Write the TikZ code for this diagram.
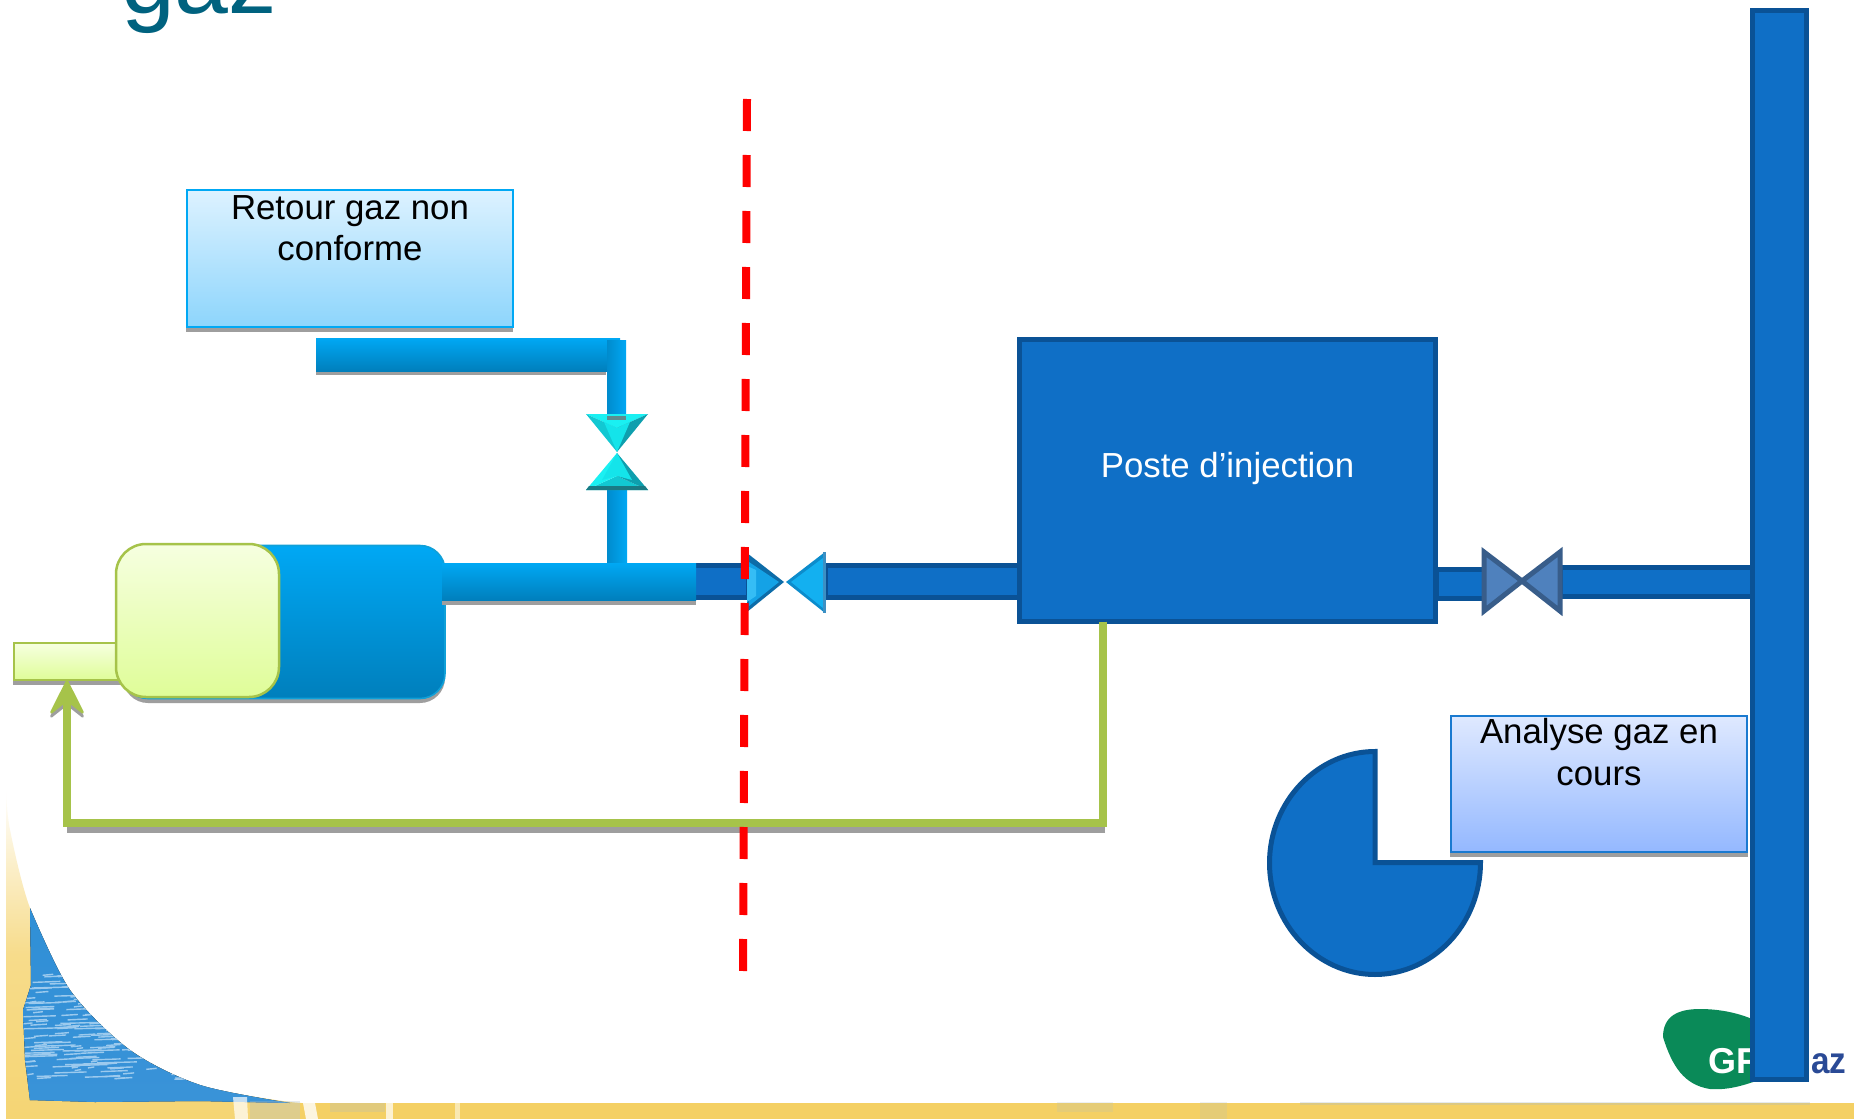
\documentclass[tikz,border=0pt]{standalone}
\usepackage{fontspec}
\setmainfont{Liberation Sans}
\usetikzlibrary{arrows.meta}
\definecolor{pipeDark}{HTML}{0A5296}
\definecolor{pipeFill}{HTML}{0F6FC6}
\definecolor{lightA}{HTML}{00A8F4}
\definecolor{lightB}{HTML}{007FBC}
\definecolor{greenLine}{HTML}{A6C34A}
\definecolor{shadowGrey}{HTML}{9E9E9E}
\definecolor{titleTeal}{HTML}{00627F}
\definecolor{bandYellow}{HTML}{F4D064}
\definecolor{logoGreen}{HTML}{0A8A58}
\definecolor{logoNavy}{HTML}{2A4A96}
\definecolor{valveFace}{HTML}{4F81BD}
\definecolor{valveEdge}{HTML}{385D8A}
\definecolor{limeTop}{HTML}{F6FFE0}
\definecolor{limeBot}{HTML}{DFFD98}
\definecolor{HBlue}{HTML}{2F8FD6}
\definecolor{HBlueB}{HTML}{3A93D8}
\definecolor{HStreak}{HTML}{9CCAEE}
\definecolor{HGrey}{HTML}{A9BCC6}
\definecolor{CalA}{HTML}{DDF2FF}
\definecolor{CalB}{HTML}{8DD5FC}
\definecolor{CalC}{HTML}{DFE9FF}
\definecolor{CalD}{HTML}{94B8FF}
\definecolor{CalEdge}{HTML}{1A7AD0}
\definecolor{MachEdge}{HTML}{10A0D8}
\definecolor{ValveC}{HTML}{1AF0F2}
\definecolor{ValveD}{HTML}{12C8D2}
\definecolor{ValveE}{HTML}{0E9FAE}
\definecolor{ValveF}{HTML}{14E4EA}
\definecolor{ValveG}{HTML}{1A7A84}
\definecolor{ValveS}{HTML}{5F8C90}
\definecolor{ValveI}{HTML}{0D6CA8}
\definecolor{ValveK}{HTML}{14A2E6}
\definecolor{ValveP}{HTML}{35BDF5}
\definecolor{ValveM}{HTML}{0C8CCC}
\definecolor{ValveL}{HTML}{13B0F0}
\definecolor{ValveO}{HTML}{3C90C4}
\tikzset{
  plainnode/.style={inner sep=0pt,outer sep=0pt},
  darkpipe/.style={plainnode,draw=pipeDark,fill=pipeFill,line width=2.5pt},
  lightpipe/.style={plainnode,top color=lightA,bottom color=lightB},
  lightriser/.style={plainnode,left color=lightB!70!lightA,right color=lightA},
  greybar/.style={plainnode,fill=shadowGrey},
  callout/.style={plainnode,draw,line width=1pt},
  limefill/.style={plainnode,draw=greenLine,line width=1.25pt,top color=limeTop,bottom color=limeBot},
  flowline/.style={draw=greenLine,line width=4pt,line cap=butt,line join=miter},
  flowshadow/.style={draw=shadowGrey,line width=4pt,line cap=butt,line join=miter},
  tipstyle/.style={-{Stealth[length=19pt,width=19pt,inset=7.5pt,round,line width=1.2pt]}},
  limitline/.style={draw=red,line width=4pt,dash pattern=on 16pt off 12pt},
  handvalve/.style={draw=valveEdge,fill=valveFace,line width=2.5pt,line join=miter},
}
% rectangle node from px corners: style, name, x1,y1,x2,y2, content
\newcommand{\pxrect}[7]{\node[#1,minimum width={((#5)-(#3))*0.5pt},minimum height={((#6)-(#4))*0.5pt}] (#2) at ({((#3)+(#5))/2},{((#4)+(#6))/2}) {#7};}
% bevelled triangle: A B apex I, colours of faces AB, A-apex, B-apex
\newcommand{\bevel}[7]{%
  \fill[#5] #1 -- #2 -- #4 -- cycle;
  \fill[#6] #1 -- #3 -- #4 -- cycle;
  \fill[#7] #2 -- #3 -- #4 -- cycle;}
\begin{document}
\begin{tikzpicture}[x=0.5pt,y=-0.5pt]
\useasboundingbox (0,0) rectangle (1854,1119);
\fill[white] (0,0) rectangle (1854,1119);
% ---------- slide background
\path[top color=white,bottom color=bandYellow!90!white,middle color=bandYellow!75!white]
  plot[smooth] coordinates {(6,790) (10,830) (30,908) (70,990) (130,1050) (200,1085) (290,1102) (340,1103)}
  -- (340,1119) -- (6,1119) -- cycle;
\fill[bandYellow] (300,1103) rectangle (1854,1119);
\begin{scope}
  \clip plot[smooth] coordinates {(30,908) (70,990) (130,1050) (200,1085) (290,1103)} -- (200,1101) -- (95,1102) -- (30,1100) -- (25,1060) -- (23,1010) -- (31,985) -- cycle;
  \fill[top color=HBlue,bottom color=HBlueB] (20,900) rectangle (300,1110);
  \pgfmathsetseed{11}
  \foreach \i in {1,...,320} {
    \pgfmathsetmacro\sx{20+rnd*230}
    \pgfmathsetmacro\sy{975+rnd*105}
    \pgfmathsetmacro\sl{6+rnd*34}
    \draw[HStreak,line width=.7pt] (\sx,\sy) -- ++(\sl,-1);
  }
  \fill[HBlueB,opacity=.75] (20,1082) rectangle (300,1110);
\end{scope}
\fill[white,opacity=.7] (233,1097) -- (247,1097) -- (248,1119) -- (235,1119) -- cycle;
\fill[white,opacity=.8] (303,1103) -- (315,1103) -- (318,1119) -- (306,1119) -- cycle;
\fill[white!70!bandYellow] (386,1103) rectangle (393,1119);
\fill[white!50!bandYellow] (455,1103) rectangle (460,1119);
\fill[HGrey,opacity=.3] (250,1101) rectangle (300,1119);
\fill[HGrey,opacity=.25] (330,1103) rectangle (385,1112);
\fill[HGrey,opacity=.2] (1057,1102) rectangle (1113,1112);
\fill[HGrey,opacity=.2] (1200,1102) rectangle (1227,1119);
\fill[HGrey,opacity=.3] (1300,1102) rectangle (1810,1105);
% ---------- logo behind the main
\fill[logoGreen] (1663,1037) .. controls (1663,1016) and (1678,1009) .. (1700,1009)
  .. controls (1730,1009) and (1758,1018) .. (1780,1035)
  .. controls (1785,1060) and (1770,1078) .. (1750,1083)
  .. controls (1735,1088) and (1722,1090) .. (1710,1089)
  .. controls (1684,1085) and (1672,1066) .. (1663,1037) -- cycle;
\node[plainnode,anchor=base west,text=white,font=\fontsize{18}{20}\selectfont\bfseries] (logoA) at (1708,1073) {GF};
\node[plainnode,anchor=base west,text=logoNavy,font=\fontsize{18.5}{20}\selectfont\bfseries,xscale=.9] (logoB) at (1811,1073) {az};
% ---------- title
\node[plainnode,anchor=base west,text=titleTeal,font=\fontsize{48.4}{50}\selectfont] (title) at (121,13) {gaz};
% ---------- callout 1
\pxrect{greybar}{shA}{186}{327}{513}{332}{}
\pxrect{callout,draw=lightA,top color=CalA,bottom color=CalB}{retour}{187}{190}{513}{327}{\parbox[c][68.5pt][t]{163pt}{\centering\fontsize{17.4}{20.6}\selectfont\rule{0pt}{14.5pt}Retour gaz non\\conforme}}
% ---------- return pipe
\pxrect{greybar}{shB}{316}{371}{606}{375}{}
\pxrect{lightpipe}{pipeTop}{316}{338}{620}{371}{}
\pxrect{lightriser}{riserTop}{607}{340}{626}{416}{}
\pxrect{lightriser}{riserLow}{607}{488}{627}{565}{}
% ---------- cyan valve
\bevel{(586,414)}{(648,414)}{(617,452)}{(617,428)}{ValveC}{ValveD}{ValveE}
\fill[ValveF] (617,428) -- (604,422) -- (617,452) -- (630,422) -- cycle;
\pxrect{plainnode,fill=ValveS}{shC}{607}{416}{626}{420}{}
\bevel{(586,490)}{(648,490)}{(617,453)}{(617,476)}{ValveD}{ValveC}{ValveE}
\fill[ValveF] (617,476) -- (602,480) -- (617,453) -- (632,480) -- cycle;
\fill[ValveG] (586,490) -- (589,486) -- (645,486) -- (648,490) -- cycle;
% ---------- machine
\node[plainnode,fill=shadowGrey,rounded corners=12.5pt,minimum width=161pt,minimum height=76.5pt] (mShadow) at (284,626.5) {};
\node[plainnode,draw=MachEdge,line width=.8pt,top color=lightA,bottom color=lightB,rounded corners=12.5pt,minimum width=161pt,minimum height=76.5pt] (machine) at (284,622) {};
\pxrect{greybar}{shD}{13}{680}{125}{685}{}
\pxrect{limefill}{feed}{14}{643}{135}{680}{}
\node[plainnode,draw=greenLine,line width=1.25pt,top color=limeTop,bottom color=limeBot,rounded corners=15pt,minimum width=81.5pt,minimum height=76.5pt] (lime) at (197.5,620.5) {};
% ---------- main line
\pxrect{darkpipe}{pipeA}{690}{565.5}{748}{597}{}
\pxrect{greybar}{shE}{442}{600}{696}{605}{}
\pxrect{lightpipe}{pipeMain}{442}{563}{696}{600}{}
\pxrect{darkpipe}{pipeB}{825}{565.5}{1020}{597}{}
% ---------- blue valve
\fill[ValveI] (747,553) -- (784,582) -- (747,612) -- cycle;
\fill[ValveK] (749,562) -- (779,582) -- (749,606) -- cycle;
\fill[ValveP] (747,566) -- (756,570) -- (756,596) -- (747,602) -- cycle;
\fill[ValveM] (825,552) -- (786,582) -- (825,613) -- cycle;
\fill[ValveL] (823,558) -- (791,582) -- (823,608) -- cycle;
\fill[ValveO] (823,552) rectangle (826,613);
% ---------- poste
\pxrect{darkpipe}{pipeC}{1436}{569.5}{1484}{598.5}{}
\pxrect{darkpipe}{poste}{1019.5}{339.5}{1435.5}{621.5}{\parbox[c][141pt][t]{205pt}{\centering\fontsize{17.4}{20.6}\selectfont\color{white}\rule{0pt}{68.75pt}Poste d’injection}}
\pxrect{darkpipe}{pipeD}{1560}{567.5}{1752}{596.5}{}
\draw[handvalve] (1484,552) -- (1522,581) -- (1484,611) -- cycle;
\draw[handvalve] (1560,552) -- (1522,581) -- (1560,611) -- cycle;
% ---------- gas main
\pxrect{darkpipe}{gasmain}{1752.5}{10.5}{1806.5}{1079.5}{}
% ---------- callout 2
\pxrect{greybar}{shF}{1450}{852}{1748}{857}{}
\pxrect{callout,draw=CalEdge,top color=CalC,bottom color=CalD}{analyse}{1451}{716}{1747}{852}{\parbox[c][68pt][t]{147pt}{\centering\fontsize{17.4}{21.4}\selectfont\rule{0pt}{13.5pt}Analyse gaz en\\cours}}
% ---------- sector
\draw[draw=pipeDark,fill=pipeFill,line width=2.5pt,line join=miter]
  (1375,862.5) -- (1375,751.5)
  .. controls (1318,751.5) and (1269.5,801) .. (1269.5,863)
  .. controls (1269.5,925) and (1318,974.5) .. (1375,974.5)
  .. controls (1432,974.5) and (1480.5,925) .. (1480.5,862.5) -- cycle;
% ---------- return connector
\coordinate (gX) at (1103,0);
\coordinate (gY) at (67,0);
\coordinate (gOut) at (poste.south -| gX);
\coordinate (gCorner) at (67,823);
\coordinate (gTip) at (feed.south -| gY);
\coordinate (gTipLow) at (67,684);
\coordinate (gTail) at (67,730);
\draw[flowshadow] (1105,829) -- (67,829);
\path[flowshadow,tipstyle] (gTail) -- (gTipLow);
\path[flowline,tipstyle] (gOut) |- (gCorner) -- (gTip);
% ---------- limit line
\coordinate (limitA) at (747,99);
\coordinate (limitB) at (743,971);
\path[limitline] (limitA) -- (limitB);
\end{tikzpicture}
\end{document}
